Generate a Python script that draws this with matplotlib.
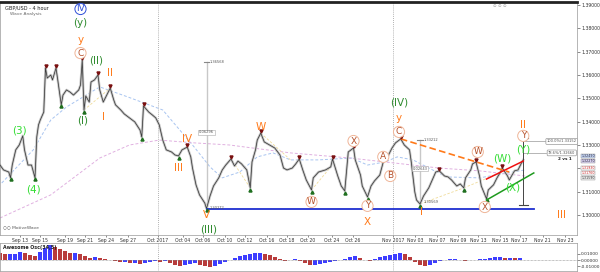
import numpy as np
import matplotlib.pyplot as plt
from matplotlib.transforms import blended_transform_factory

# GBP/USD 4h, position in bars (about 1.75 px each) and price
bars = [0, 2, 5, 6, 7, 9, 11, 13, 14, 16, 18, 20, 21, 22, 23, 25, 26, 27, 29, 30,
        32, 33, 35, 36, 38, 40, 42, 45, 46, 47, 48, 49, 51, 52, 54, 56, 57, 59, 61, 63,
        65, 66, 69, 71, 74, 77, 80, 81, 82, 85, 87, 89, 91, 93, 95, 98, 100, 102, 104, 107,
        109, 110, 112, 114, 117, 118, 120, 122, 125, 127, 129, 132, 134, 136, 138, 141, 143, 144, 146, 147,
        149, 151, 154, 157, 160, 162, 164, 167, 169, 171, 173, 175, 178, 179, 182, 186, 189, 190, 193, 195,
        197, 198, 199, 202, 203, 206, 207, 210, 212, 214, 217, 219, 222, 224, 226, 229, 231, 234, 235, 237,
        238, 240, 242, 245, 247, 249, 251, 254, 256, 258, 261, 263, 265, 266, 269, 270, 272, 274, 275, 278,
        279, 282, 284, 286, 287, 290, 291, 294, 296, 298, 299]
close = [1.3214, 1.3193, 1.3184, 1.3159, 1.3214, 1.3279, 1.3300, 1.3339, 1.3279, 1.3214,
         1.3214, 1.3159, 1.3334, 1.3386, 1.3407, 1.3441, 1.3630, 1.3587, 1.3600, 1.3579,
         1.3630, 1.3579, 1.3472, 1.3514, 1.3536, 1.3527, 1.3514, 1.3536, 1.3557, 1.3664,
         1.3450, 1.3510, 1.3484, 1.3570, 1.3579, 1.3600, 1.3536, 1.3484, 1.3514, 1.3544,
         1.3493, 1.3472, 1.3450, 1.3433, 1.3416, 1.3399, 1.3364, 1.3334, 1.3467, 1.3441,
         1.3429, 1.3416, 1.3386, 1.3321, 1.3279, 1.3270, 1.3257, 1.3253, 1.3279, 1.3291,
         1.3249, 1.3201, 1.3129, 1.3086, 1.3051, 1.3027, 1.3081, 1.3124, 1.3159, 1.3193,
         1.3214, 1.3240, 1.3210, 1.3231, 1.3219, 1.3193, 1.3116, 1.3227, 1.3279, 1.3321,
         1.3351, 1.3313, 1.3300, 1.3287, 1.3257, 1.3201, 1.3193, 1.3201, 1.3219, 1.3240,
         1.3193, 1.3150, 1.3107, 1.3159, 1.3184, 1.3193, 1.3206, 1.3240, 1.3167, 1.3124,
         1.3103, 1.3184, 1.3270, 1.3287, 1.3236, 1.3171, 1.3124, 1.3077, 1.3124, 1.3146,
         1.3171, 1.3227, 1.3257, 1.3287, 1.3309, 1.3326, 1.3300, 1.3279, 1.3227, 1.3099,
         1.3064, 1.3047, 1.3081, 1.3116, 1.3150, 1.3184, 1.3189, 1.3167, 1.3163, 1.3150,
         1.3124, 1.3133, 1.3116, 1.3159, 1.3193, 1.3219, 1.3227, 1.3167, 1.3124, 1.3069,
         1.3107, 1.3129, 1.3159, 1.3184, 1.3201, 1.3167, 1.3150, 1.3189, 1.3193, 1.3223,
         1.3236]

peak_bars = [26, 32, 47, 56, 63, 82, 107, 132, 149, 171, 190, 202, 229, 251, 272, 287]
trough_bars = [6, 20, 35, 48, 81, 102, 118, 143, 178, 197, 210, 240, 265, 278]

# moving averages
ma_fast_t = [1, 19, 29, 38, 57, 73, 93, 111, 120, 127, 137, 147, 156, 166, 182, 201, 210, 220, 227, 236, 255, 274, 293, 300]
ma_fast = [1.3137, 1.3279, 1.3407, 1.3463, 1.3549, 1.3506, 1.3450, 1.3291, 1.3206, 1.3159, 1.3184, 1.3249,
           1.3266, 1.3236, 1.3236, 1.3244, 1.3214, 1.3227, 1.3249, 1.3236, 1.3163, 1.3159, 1.3184, 1.3193]
ma_slow_t = [0, 29, 57, 74, 91, 111, 131, 166, 200, 225, 251, 274, 300]
ma_slow = [1.2987, 1.3086, 1.3244, 1.3300, 1.3321, 1.3309, 1.3300, 1.3266, 1.3244, 1.3223, 1.3201, 1.3189, 1.3167]

# wave labels: text, bar, price, colour, circled
orange = '#ff7a1a'
green = '#33dd33'
dgreen = '#2e8b2e'
brown = '#b5502a'
blue = '#2f4fd8'
labels = [
    ('IV', 46, 1.3883, blue, True), ('(y)', 46, 1.3823, dgreen, False),
    ('y', 46, 1.3750, orange, False), ('C', 46, 1.3694, brown, True),
    ('(3)', 11, 1.3364, green, False), ('(4)', 19, 1.3107, green, False),
    ('(I)', 47, 1.3403, dgreen, False), ('(II)', 55, 1.3664, dgreen, False),
    ('II', 63, 1.3609, orange, False), ('I', 59, 1.3420, orange, False),
    ('IV', 107, 1.3326, orange, False), ('III', 102, 1.3201, orange, False),
    ('V', 118, 1.3000, orange, False), ('(III)', 119, 1.2936, dgreen, False),
    ('W', 149, 1.3377, orange, False), ('W', 178, 1.3056, brown, True),
    ('X', 202, 1.3317, brown, True), ('Y', 210, 1.3039, brown, True),
    ('X', 210, 1.2970, orange, False), ('A', 219, 1.3249, brown, True),
    ('B', 223, 1.3167, brown, True), ('C', 228, 1.3356, brown, True),
    ('y', 228, 1.3416, orange, False), ('(IV)', 228, 1.3480, dgreen, False),
    ('I', 241, 1.3013, orange, False), ('W', 273, 1.3270, brown, True),
    ('X', 277, 1.3034, brown, True), ('(W)', 287, 1.3244, green, False),
    ('(X)', 293, 1.3116, green, False), ('(Y)', 299, 1.3279, green, False),
    ('Y', 299, 1.3339, brown, True), ('II', 299, 1.3386, orange, False),
    ('III', 321, 1.3000, orange, False),
]

date_t = [11.4, 22.9, 37, 48.6, 60.6, 73, 90.3, 104.6, 116, 128.6, 140, 152.6, 164, 176,
          189.7, 201.7, 224.6, 237, 249.7, 261.7, 273, 285.7, 297, 310, 323]
date_lab = ['Sep 13', 'Sep 15', 'Sep 19', 'Sep 21', 'Sep 24', 'Sep 27', 'Oct 2017', 'Oct 04',
            'Oct 06', 'Oct 10', 'Oct 12', 'Oct 16', 'Oct 18', 'Oct 20', 'Oct 24', 'Oct 26',
            'Nov 2017', 'Nov 03', 'Nov 07', 'Nov 09', 'Nov 13', 'Nov 15', 'Nov 17', 'Nov 21', 'Nov 23']
month_t = [90.3, 224.6]

# price-axis ticks (1.32000 is hidden behind the live price tags)
ytick_val = [1.30, 1.31, 1.32, 1.33, 1.34, 1.35, 1.36, 1.37, 1.38, 1.39]
ytick_lab = ['1.30000', '1.31000', '', '1.33000', '1.34000', '1.35000', '1.36000', '1.37000', '1.38000', '1.39000']

# right-axis price tags
tag_lvl = [1.3252, 1.3231, 1.3201, 1.3180, 1.3159]
tag_txt = ['1.32490', '1.32270', '1.31930', '1.31760', '1.31590']

# awesome oscillator, one value per ~2.86 bars
ao = [0.0112, 0.0096, 0.0096, 0.0096, 0.0128, 0.0112, 0.0080, 0.0064, 0.0128, 0.0192,
      0.0240, 0.0208, 0.0176, 0.0144, 0.0112, 0.0120, 0.0096, 0.0064, 0.0032, 0.0048,
      0.0032, 0.0016, 0.0000, -0.0016, -0.0032, -0.0032, -0.0048, -0.0048, -0.0064, -0.0048,
      -0.0032, -0.0016, -0.0032, -0.0016, -0.0048, -0.0080, -0.0096, -0.0080, -0.0064, -0.0048,
      -0.0080, -0.0096, -0.0112, -0.0096, -0.0064, -0.0032, 0.0000, 0.0032, 0.0064, 0.0080,
      0.0096, 0.0112, 0.0112, 0.0096, 0.0080, 0.0048, 0.0016, -0.0016, 0.0000, 0.0016,
      -0.0016, -0.0048, -0.0080, -0.0080, -0.0064, -0.0048, -0.0032, -0.0016, 0.0000, 0.0016,
      0.0048, 0.0064, 0.0032, 0.0000, -0.0016, 0.0016, 0.0048, 0.0064, 0.0080, 0.0096,
      0.0112, 0.0096, 0.0048, -0.0032, -0.0080, -0.0096, -0.0080, -0.0048, -0.0016, 0.0000,
      0.0016, 0.0016, 0.0000, -0.0016, 0.0000, 0.0008, 0.0016, 0.0016, 0.0032, 0.0048,
      0.0048, 0.0032, 0.0040, 0.0032, 0.0032]
ao_step = 20 / 7

fig = plt.figure(figsize=(6, 2.72), dpi=100)
ax = fig.add_axes([0, 37 / 272, 577 / 600, 233 / 272])
ax2 = fig.add_axes([0, 1 / 272, 577 / 600, 28 / 272])

price = dict(zip(bars, close))

ax.plot(bars, close, color='#c8c8c8', lw=1.8, zorder=2)
ax.plot(bars, close, color='#3a3a3a', lw=0.55, zorder=3)
ax.plot(ma_fast_t, ma_fast, color='#a8c4f0', lw=0.7, ls=(0, (3, 2)), zorder=1)
ax.plot(ma_slow_t, ma_slow, color='#e0b0e0', lw=0.7, ls=(0, (3, 2)), zorder=1)

# faint zigzag helpers
for seg in [((48, 1.3450), (63, 1.3544)), ((149, 1.3351), (166, 1.3236)),
            ((178, 1.3107), (189, 1.3206)), ((143, 1.3116), (132, 1.3240)),
            ((240, 1.3047), (265, 1.3116)), ((265, 1.3116), (287, 1.3184))]:
    (x0, y0), (x1, y1) = seg
    ax.plot([x0, x1], [y0, y1], color='#f0dc9a', lw=0.6, ls=(0, (3, 2)), zorder=1)

ax.plot(peak_bars, [price[b] + 0.0007 for b in peak_bars], 'v', color='#7a1010', ms=2.2, zorder=4)
ax.plot(trough_bars, [price[b] - 0.0007 for b in trough_bars], '^', color='#1f6f1f', ms=2.2, zorder=4)

# trend lines
ax.plot([118, 305], [1.3027, 1.3027], color='#1f2fd0', lw=1.3, zorder=3)
ax.plot([229, 291], [1.3326, 1.3184], color='#ff7a1a', lw=1.2, ls=(0, (4, 2)), zorder=3)
ax.plot([278, 299], [1.3154, 1.3231], color='#ee1111', lw=1.1, zorder=5)
ax.plot([278, 305], [1.3064, 1.3180], color='#1f9a1f', lw=1.1, zorder=5)

# measuring tools
for xb, top, bot, lt, lb, mid in [(118, 1.3656, 1.3027, '1.36568', '1.30272', '0.06296'),
                                  (240, 1.3321, 1.3052, '1.33212', '1.30569', '0.02643')]:
    ax.plot([xb, xb], [bot, top], color='#c8c8c8', lw=1.0, zorder=2)
    ax.plot([xb - 1.5, xb + 1.5], [top, top], color='#888', lw=0.8)
    ax.text(xb + 2, top, lt, fontsize=2.6, color='#555', va='center')
    ax.text(xb + 2, bot + 0.0003, lb, fontsize=2.6, color='#555', va='center')
    ax.text(xb, (top + bot) / 2 + 0.0012, mid, fontsize=2.6, color='#555', ha='center', va='center',
            bbox=dict(boxstyle='square,pad=0.2', fc='white', ec='#aaa', lw=0.4))
ax.plot([299, 299], [1.3043, 1.3330], color='#444', lw=0.7, zorder=4)
ax.plot([296.5, 301.5], [1.3330, 1.3330], color='#444', lw=0.8)
ax.plot([296.5, 301.5], [1.3043, 1.3043], color='#444', lw=0.8)
ax.plot([299, 312], [1.3315, 1.3315], color='#aaa', lw=0.6)
ax.plot([299, 312], [1.3266, 1.3266], color='#aaa', lw=0.6)
for lvl, txt in [(1.3315, '100.0%/1.33152'), (1.3266, '78.6%/1.32660')]:
    ax.text(321, lvl, txt, fontsize=2.6, color='#555', ha='center', va='center',
            bbox=dict(boxstyle='round,pad=0.25', fc='white', ec='#999', lw=0.5))
ax.text(323, 1.3238, '2 vs 1', fontsize=3, color='#222', ha='center', va='center', weight='bold')

for lab, xb, yp, col, circ in labels:
    if circ:
        ax.text(xb, yp, lab, fontsize=6.5, color=col, ha='center', va='center', zorder=6,
                bbox=dict(boxstyle='circle,pad=0.12', fc='white', ec='#efb598' if col != blue else blue, lw=0.7))
    else:
        ax.text(xb, yp, lab, fontsize=7.5, color=col, ha='center', va='center', zorder=6)

for m in month_t:
    ax.axvline(m, color='#999', lw=0.6, ls=(0, (1, 1.5)), zorder=0)
    ax2.axvline(m, color='#999', lw=0.6, ls=(0, (1, 1.5)), zorder=0)

ax.set_xlim(0, 329.7)
ax.set_ylim(1.2914, 1.3913)
ax.yaxis.tick_right()
ax.set_yticks(ytick_val)
ax.set_yticklabels(ytick_lab)
ax.tick_params(axis='y', labelsize=3.3, length=2, width=0.4, pad=1, colors='#333')
ax.set_xticks(date_t)
ax.set_xticklabels(date_lab)
ax.tick_params(axis='x', labelsize=3.3, length=1.5, width=0.4, pad=0.8, colors='#333')
for s in ax.spines.values():
    s.set_color('#999')
    s.set_linewidth(0.5)
ax.spines['top'].set_color('#222')
ax.spines['top'].set_linewidth(2)

tr = blended_transform_factory(ax.transAxes, ax.transData)
tag_style = [('#c8d8f8', '#223'), ('#d8d0f0', '#223'), ('white', '#c22'), ('white', '#c22'), ('#eeeeee', '#333')]
for lvl, txt, (fc, tc) in zip(tag_lvl, tag_txt, tag_style):
    ax.text(1.008, lvl, txt, transform=tr, fontsize=2.3, color=tc, va='center', ha='left', clip_on=False,
            bbox=dict(boxstyle='square,pad=0.05', fc=fc, ec='#888', lw=0.3))

ax.text(0.008, 0.985, 'GBP/USD - 4 hour', transform=ax.transAxes, fontsize=3.6, color='#222', va='top')
ax.text(0.018, 0.955, 'Wave Analysis', transform=ax.transAxes, fontsize=3.2, color='#666', va='top')
ax.text(0.005, 0.025, '\u25cb\u25cb MotiveWave', transform=ax.transAxes, fontsize=3.2, color='#555', va='bottom')
ax.text(0.855, 0.992, '\u2299 \u2299 \u2299', transform=ax.transAxes, fontsize=3.2, color='#999', va='top')

ao_t = np.arange(len(ao)) * ao_step
ao_col = ['#3d3dff' if i > 0 and ao[i] >= ao[i - 1] else '#b83c3c' for i in range(len(ao))]
ax2.bar(ao_t, ao, width=ao_step * 0.85, color=ao_col, lw=0)
ax2.axhline(0, color='#888', lw=0.5, ls=(0, (1, 1)))
ax2.set_xlim(0, 329.7)
ax2.set_ylim(-0.0176, 0.0272)
ax2.set_xticks([])
ax2.yaxis.tick_right()
ax2.set_yticks([-0.01, 0, 0.01])
ax2.set_yticklabels(['-0.01000', '0.00000', '0.01000'])
ax2.tick_params(axis='y', labelsize=3.2, length=2, width=0.4, pad=1, colors='#333')
for s in ax2.spines.values():
    s.set_color('#999')
    s.set_linewidth(0.5)
ax2.text(0.005, 0.92, 'Awesome Osc(34,5)', transform=ax2.transAxes, fontsize=3.4, color='#222',
         va='top', weight='bold')

fig.savefig('out.png', dpi=100)
